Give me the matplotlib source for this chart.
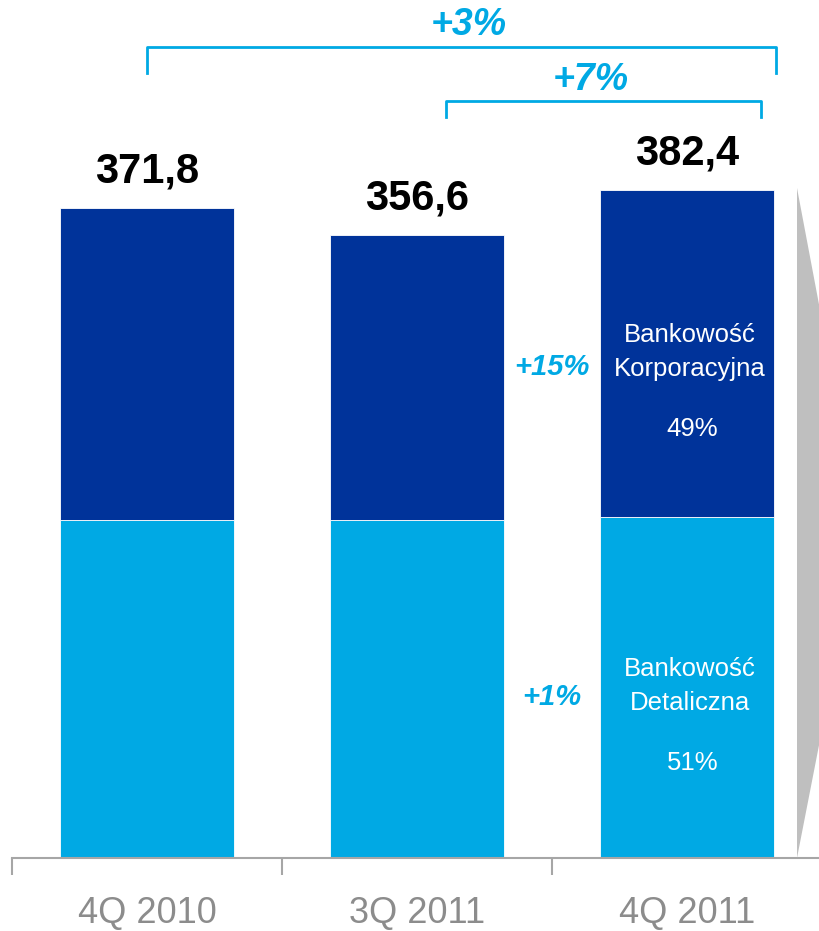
import matplotlib
matplotlib.use('Agg')
import matplotlib.pyplot as plt
from matplotlib.patches import Polygon

plt.rcParams['font.family'] = ['Liberation Sans', 'DejaVu Sans']

# data
quarters = ['4Q 2010', '3Q 2011', '4Q 2011']
totals = [371.8, 356.6, 382.4]
retail = [193.3, 193.6, 195.0]
corporate = [t - r for t, r in zip(totals, retail)]
total_labels = ['371,8', '356,6', '382,4']
share_retail = '51%'
share_corp = '49%'

DARK = '#00339A'
LIGHT = '#00A9E4'
GREY_TXT = '#8C8C8C'

fig = plt.figure(figsize=(8.2, 9.31), dpi=100)
ax = fig.add_axes([12 / 820, 73 / 931, 810 / 820, 858 / 931])

x = range(len(quarters))
w = 0.645
ax.bar(x, retail, width=w, color=LIGHT, edgecolor='white', linewidth=0.6)
ax.bar(x, corporate, width=w, bottom=retail, color=DARK, edgecolor='white', linewidth=0.6)

ax.set_xlim(-0.5, 2.5)
ax.set_ylim(0, 491)

# totals above bars
for i, (t, lab) in enumerate(zip(totals, total_labels)):
    ax.annotate(lab, (i, t), xytext=(0, 12), textcoords='offset points',
                ha='center', va='bottom', fontsize=30, fontweight='bold', color='black')

# segment labels in last bar
i = 2
mid_c = retail[i] + corporate[i] / 2
mid_r = retail[i] / 2
ax.text(i + 0.01, mid_c + 1, 'Bankowość\nKorporacyjna', ha='center', va='center',
        color='white', fontsize=18.5, linespacing=1.55)
ax.text(i + 0.02, mid_c - 43, share_corp, ha='center', va='center', color='white', fontsize=18.5)
ax.text(i + 0.01, mid_r + 1, 'Bankowość\nDetaliczna', ha='center', va='center',
        color='white', fontsize=18.5, linespacing=1.55)
ax.text(i + 0.02, mid_r - 43, share_retail, ha='center', va='center', color='white', fontsize=18.5)

# growth figures
ax.text(1.5, 281, '+15%', ha='center', va='center', color=LIGHT,
        fontsize=21, fontweight='bold', fontstyle='italic')
ax.text(1.5, 92, '+1%', ha='center', va='center', color=LIGHT,
        fontsize=21, fontweight='bold', fontstyle='italic')

# brackets
def bracket(x0, x1, ytop, ybot, label, xlab, ylab):
    ax.plot([x0, x0, x1, x1], [ybot, ytop, ytop, ybot], color=LIGHT, lw=2,
            solid_joinstyle='round', clip_on=False)
    ax.text(xlab, ylab, label, ha='center', va='center', color=LIGHT,
            fontsize=27, fontweight='bold', fontstyle='italic')

bracket(0.0, 2.33, 464, 449, '+3%', 1.19, 476.5)
bracket(1.107, 2.274, 433, 424, '+7%', 1.645, 445.5)

# axis
for s in ['top', 'right', 'left']:
    ax.spines[s].set_visible(False)
ax.spines['bottom'].set_color('#A6A6A6')
ax.spines['bottom'].set_linewidth(1.5)
ax.set_yticks([])
ax.set_xticks([-0.5, 0.5, 1.5, 2.5])
ax.set_xticklabels([])
ax.tick_params(axis='x', direction='out', length=12, width=1.5, color='#A6A6A6')
for i, q in enumerate(quarters):
    ax.text(i, -31.5, q, ha='center', va='center', color=GREY_TXT,
            fontsize=26, clip_on=False)

# grey wedge at right edge
pts = [(797, 188), (821, 315), (821, 735), (797, 858)]
wedge = Polygon([(px / 820, 1 - py / 931) for px, py in pts], closed=True,
                transform=fig.transFigure, facecolor='#BFBFBF', edgecolor='none')
fig.patches.append(wedge)

fig.savefig('out.png', dpi=100)
